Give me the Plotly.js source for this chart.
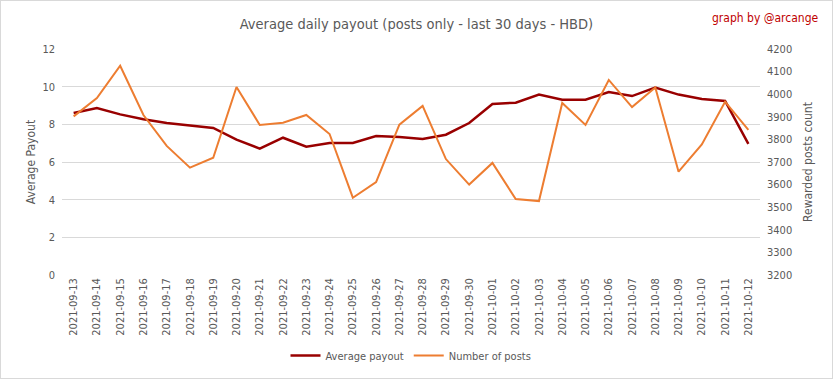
<!DOCTYPE html>
<html><head><meta charset="utf-8">
<script src="https://cdn.plot.ly/plotly-3.0.1.min.js"></script>
<style>
html,body{margin:0;padding:0;background:#fff;}
#wrap{width:833px;height:379px;box-sizing:border-box;border:1px solid #d9d9d9;position:relative;overflow:hidden;}
#chart{width:831px;height:377px;}
</style></head>
<body><div id="wrap"><div id="chart"></div></div>
<script>
const dates = ["2021-09-13","2021-09-14","2021-09-15","2021-09-16","2021-09-17","2021-09-18","2021-09-19","2021-09-20","2021-09-21","2021-09-22","2021-09-23","2021-09-24","2021-09-25","2021-09-26","2021-09-27","2021-09-28","2021-09-29","2021-09-30","2021-10-01","2021-10-02","2021-10-03","2021-10-04","2021-10-05","2021-10-06","2021-10-07","2021-10-08","2021-10-09","2021-10-10","2021-10-11","2021-10-12"];
const avgPayout = [8.60,8.87,8.53,8.27,8.07,7.96,7.81,7.19,6.71,7.29,6.81,7.01,7.01,7.38,7.33,7.22,7.45,8.07,9.08,9.15,9.58,9.31,9.31,9.72,9.50,9.95,9.58,9.35,9.24,6.96];
const numPosts = [3902,3983,4126,3908,3771,3675,3719,4032,3864,3874,3908,3824,3542,3611,3865,3948,3713,3600,3696,3536,3527,3961,3864,4063,3943,4030,3657,3778,3967,3842];
const leftTicks = [0,2,4,6,8,10,12];
const rightTicks = [3200,3300,3400,3500,3600,3700,3800,3900,4000,4100,4200];

const FONT = '"DejaVu Sans Condensed", "Open Sans", sans-serif';
const grey = '#595959';

const traces = [
  {x: dates, y: avgPayout, type: 'scatter', mode: 'lines', name: 'Average payout',
   line: {color: '#990000', width: 2.5}, yaxis: 'y'},
  {x: dates, y: numPosts, type: 'scatter', mode: 'lines', name: 'Number of posts',
   line: {color: '#ED7D31', width: 2}, yaxis: 'y2'}
];

const layout = {
  width: 831, height: 377,
  margin: {l: 61, r: 72, t: 48, b: 103},
  paper_bgcolor: '#fff', plot_bgcolor: '#fff',
  font: {family: FONT, color: grey, size: 11},
  title: {text: 'Average daily payout (posts only - last 30 days - HBD)',
          font: {family: FONT, size: 14.5, color: grey}, x: 0.5, xanchor: 'center',
          yref: 'container', y: 0.94, yanchor: 'middle'},
  showlegend: true,
  legend: {orientation: 'h', x: 0.5, xanchor: 'center', yref: 'container', y: 0.06, yanchor: 'middle',
           font: {family: FONT, size: 11, color: grey}, traceorder: 'normal', itemwidth: 30},
  xaxis: {type: 'category', tickangle: -90, range: [-0.5, 29.5], showgrid: false, automargin: false,
          showline: false, ticks: '', tickfont: {family: FONT, size: 11, color: grey}},
  yaxis: {range: [0, 12], tickvals: leftTicks, showgrid: true, gridcolor: '#d9d9d9', gridwidth: 1,
          automargin: false, ticklabelstandoff: 6,
          zeroline: false, showline: false, ticks: '', tickfont: {family: FONT, size: 11, color: grey},
          title: {text: 'Average Payout', font: {family: FONT, size: 12, color: grey}, standoff: 4}},
  yaxis2: {range: [3200, 4200], tickvals: rightTicks, overlaying: 'y', side: 'right', showgrid: false,
           automargin: false, ticklabelstandoff: 6,
           zeroline: false, showline: false, ticks: '', tickfont: {family: FONT, size: 11, color: grey},
           title: {text: 'Rewarded posts count', font: {family: FONT, size: 12, color: grey}, standoff: 12}},
  annotations: [{text: 'graph by @arcange', xref: 'paper', yref: 'paper', x: 1.087, y: 1.137,
                 xanchor: 'right', yanchor: 'middle', showarrow: false,
                 font: {family: FONT, size: 12, color: '#c00000'}}]
};

Plotly.newPlot('chart', traces, layout, {displayModeBar: false, staticPlot: true});
</script></body></html>
